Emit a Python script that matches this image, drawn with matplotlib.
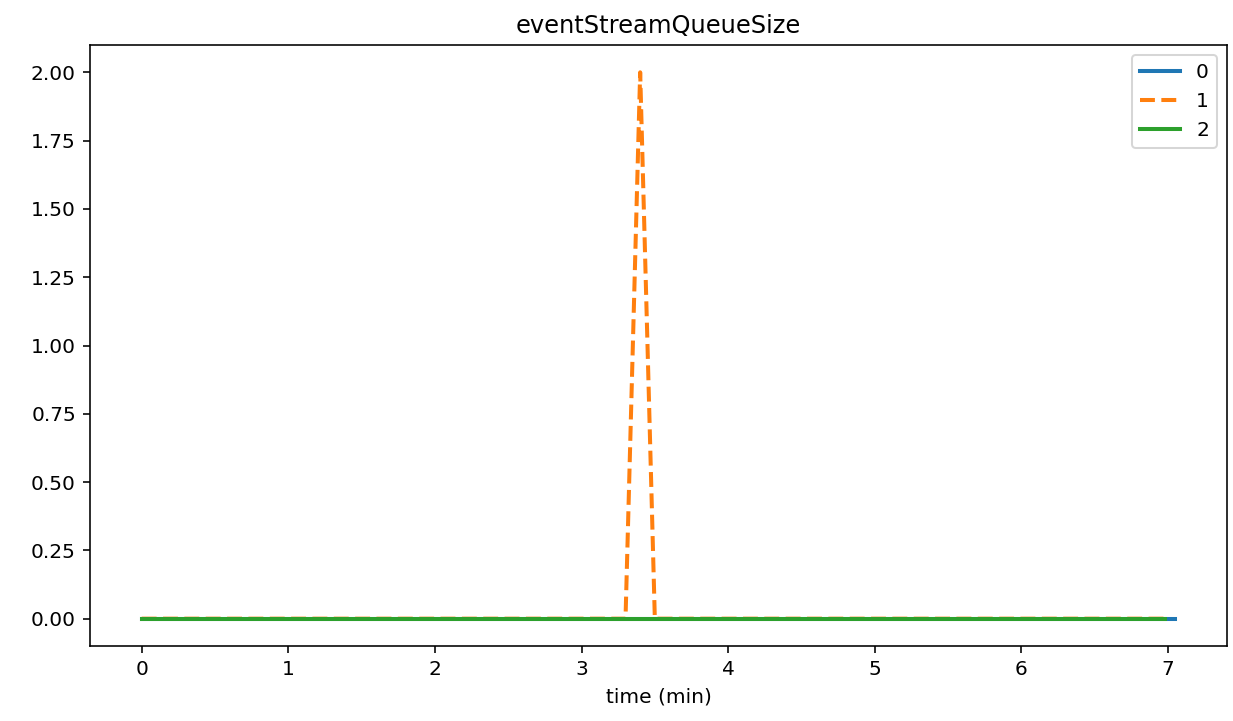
import matplotlib
matplotlib.use('Agg')
import matplotlib.pyplot as plt

# time (min) and queue size per stream
t0 = [0.0, 7.05]
q0 = [0, 0]

t1 = [0.0, 3.30, 3.40, 3.50, 6.98]
q1 = [0, 0, 2, 0, 0]

t2 = [0.0, 6.98]
q2 = [0, 0]

labels = ['0', '1', '2']

dpi = 145
fig = plt.figure(figsize=(1233 / dpi, 721 / dpi), dpi=dpi)
ax = fig.add_axes([90 / 1233, 1 - 646 / 721, (1227 - 90) / 1233, (646 - 45) / 721])

ax.plot(t0, q0, color='tab:blue', linewidth=2, label=labels[0])
ax.plot(t1, q1, color='tab:orange', linewidth=2, linestyle='--', label=labels[1])
ax.plot(t2, q2, color='tab:green', linewidth=2, label=labels[2])

ax.set_title('eventStreamQueueSize')
ax.set_xlabel('time (min)')
ax.legend(loc='upper right')

fig.savefig('out.png', dpi=dpi)
